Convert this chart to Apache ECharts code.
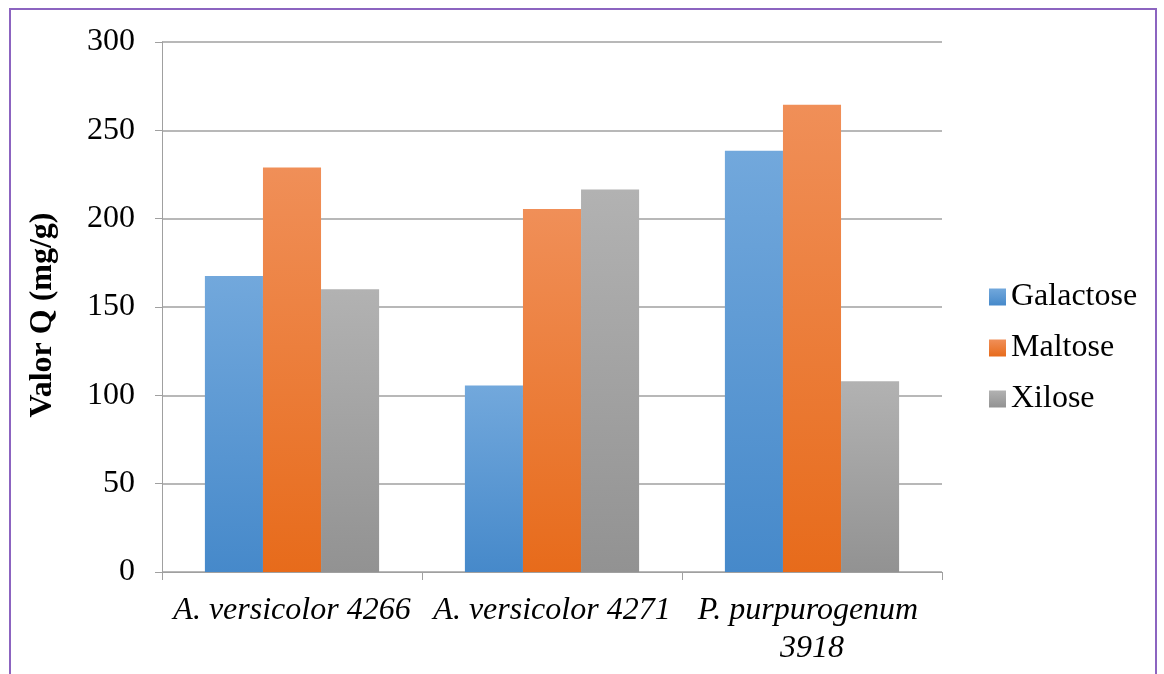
<!DOCTYPE html>
<html>
<head>
<meta charset="utf-8">
<script src="https://cdn.jsdelivr.net/npm/echarts@6/dist/echarts.min.js"></script>
<style>
  html, body { margin: 0; padding: 0; background: #ffffff; }
  #wrap { position: relative; width: 1164px; height: 674px; overflow: hidden; }
  #chart { position: absolute; left: 0; top: 0; width: 1164px; height: 674px; }
  #frame {
    position: absolute; left: 9px; top: 8px; width: 1144px; height: 700px;
    border: 2px solid #8c64c0; border-bottom: none; pointer-events: none;
  }
</style>
</head>
<body>
<div id="wrap">
  <div id="chart"></div>
  <div id="frame"></div>
</div>
<script>
// Strains on the category axis
const strains = ['A. versicolor 4266', 'A. versicolor 4271', 'P. purpurogenum 3918'];
// Q value (mg/g) per carbon source
const galactose = [167.5, 105.5, 238.5];
const maltose   = [229, 205.5, 264.5];
const xilose    = [160, 216.5, 108];
// Value axis ticks
const yMin = 0, yMax = 300, yStep = 50;

const FONT = '"Liberation Serif", "Times New Roman", serif';

function grad(top, bottom) {
  return new echarts.graphic.LinearGradient(0, 0, 0, 1, [
    { offset: 0, color: top },
    { offset: 1, color: bottom }
  ]);
}

function barSeries(name, values, top, bottom) {
  return {
    name: name,
    type: 'bar',
    data: values,
    barGap: '0%',
    barCategoryGap: '33%',
    itemStyle: { color: grad(top, bottom) },
    emphasis: { disabled: true }
  };
}

const chart = echarts.init(document.getElementById('chart'), null, { renderer: 'canvas' });
chart.setOption({
  animation: false,
  backgroundColor: '#ffffff',
  grid: { left: 162, right: 222, top: 42, bottom: 102, containLabel: false },
  legend: {
    orient: 'vertical',
    left: 984,
    top: 275,
    itemWidth: 17,
    itemHeight: 17,
    itemGap: 17,
    icon: 'rect',
    textStyle: { fontFamily: FONT, fontSize: 32, color: '#000000', lineHeight: 34 },
    data: ['Galactose', 'Maltose', 'Xilose']
  },
  xAxis: {
    type: 'category',
    data: strains,
    axisLine: { lineStyle: { color: '#a0a0a0', width: 1 } },
    axisTick: { show: true, length: 8, lineStyle: { color: '#a0a0a0' } },
    axisLabel: {
      interval: 0,
      margin: 20,
      fontFamily: FONT,
      fontStyle: 'italic',
      fontSize: 32,
      color: '#000000',
      lineHeight: 38,
      width: 255,
      overflow: 'break'
    }
  },
  yAxis: {
    type: 'value',
    min: yMin,
    max: yMax,
    interval: yStep,
    name: 'Valor Q (mg/g)',
    nameLocation: 'middle',
    nameGap: 103,
    nameTextStyle: {
      fontFamily: FONT, fontWeight: 'bold', fontSize: 32, color: '#000000',
      padding: [0, 16, 0, 0]
    },
    axisLine: { show: true, lineStyle: { color: '#a0a0a0', width: 1 } },
    axisTick: { show: true, length: 7, lineStyle: { color: '#a0a0a0' } },
    axisLabel: { margin: 27, fontFamily: FONT, fontSize: 32, color: '#000000' },
    splitLine: { show: true, lineStyle: { color: '#a0a0a0', width: 1.5 } }
  },
  series: [
    barSeries('Galactose', galactose, '#72a8dc', '#4689ca'),
    barSeries('Maltose', maltose, '#f08f58', '#e76b1b'),
    barSeries('Xilose', xilose, '#b2b2b2', '#929292')
  ]
});
</script>
</body>
</html>
